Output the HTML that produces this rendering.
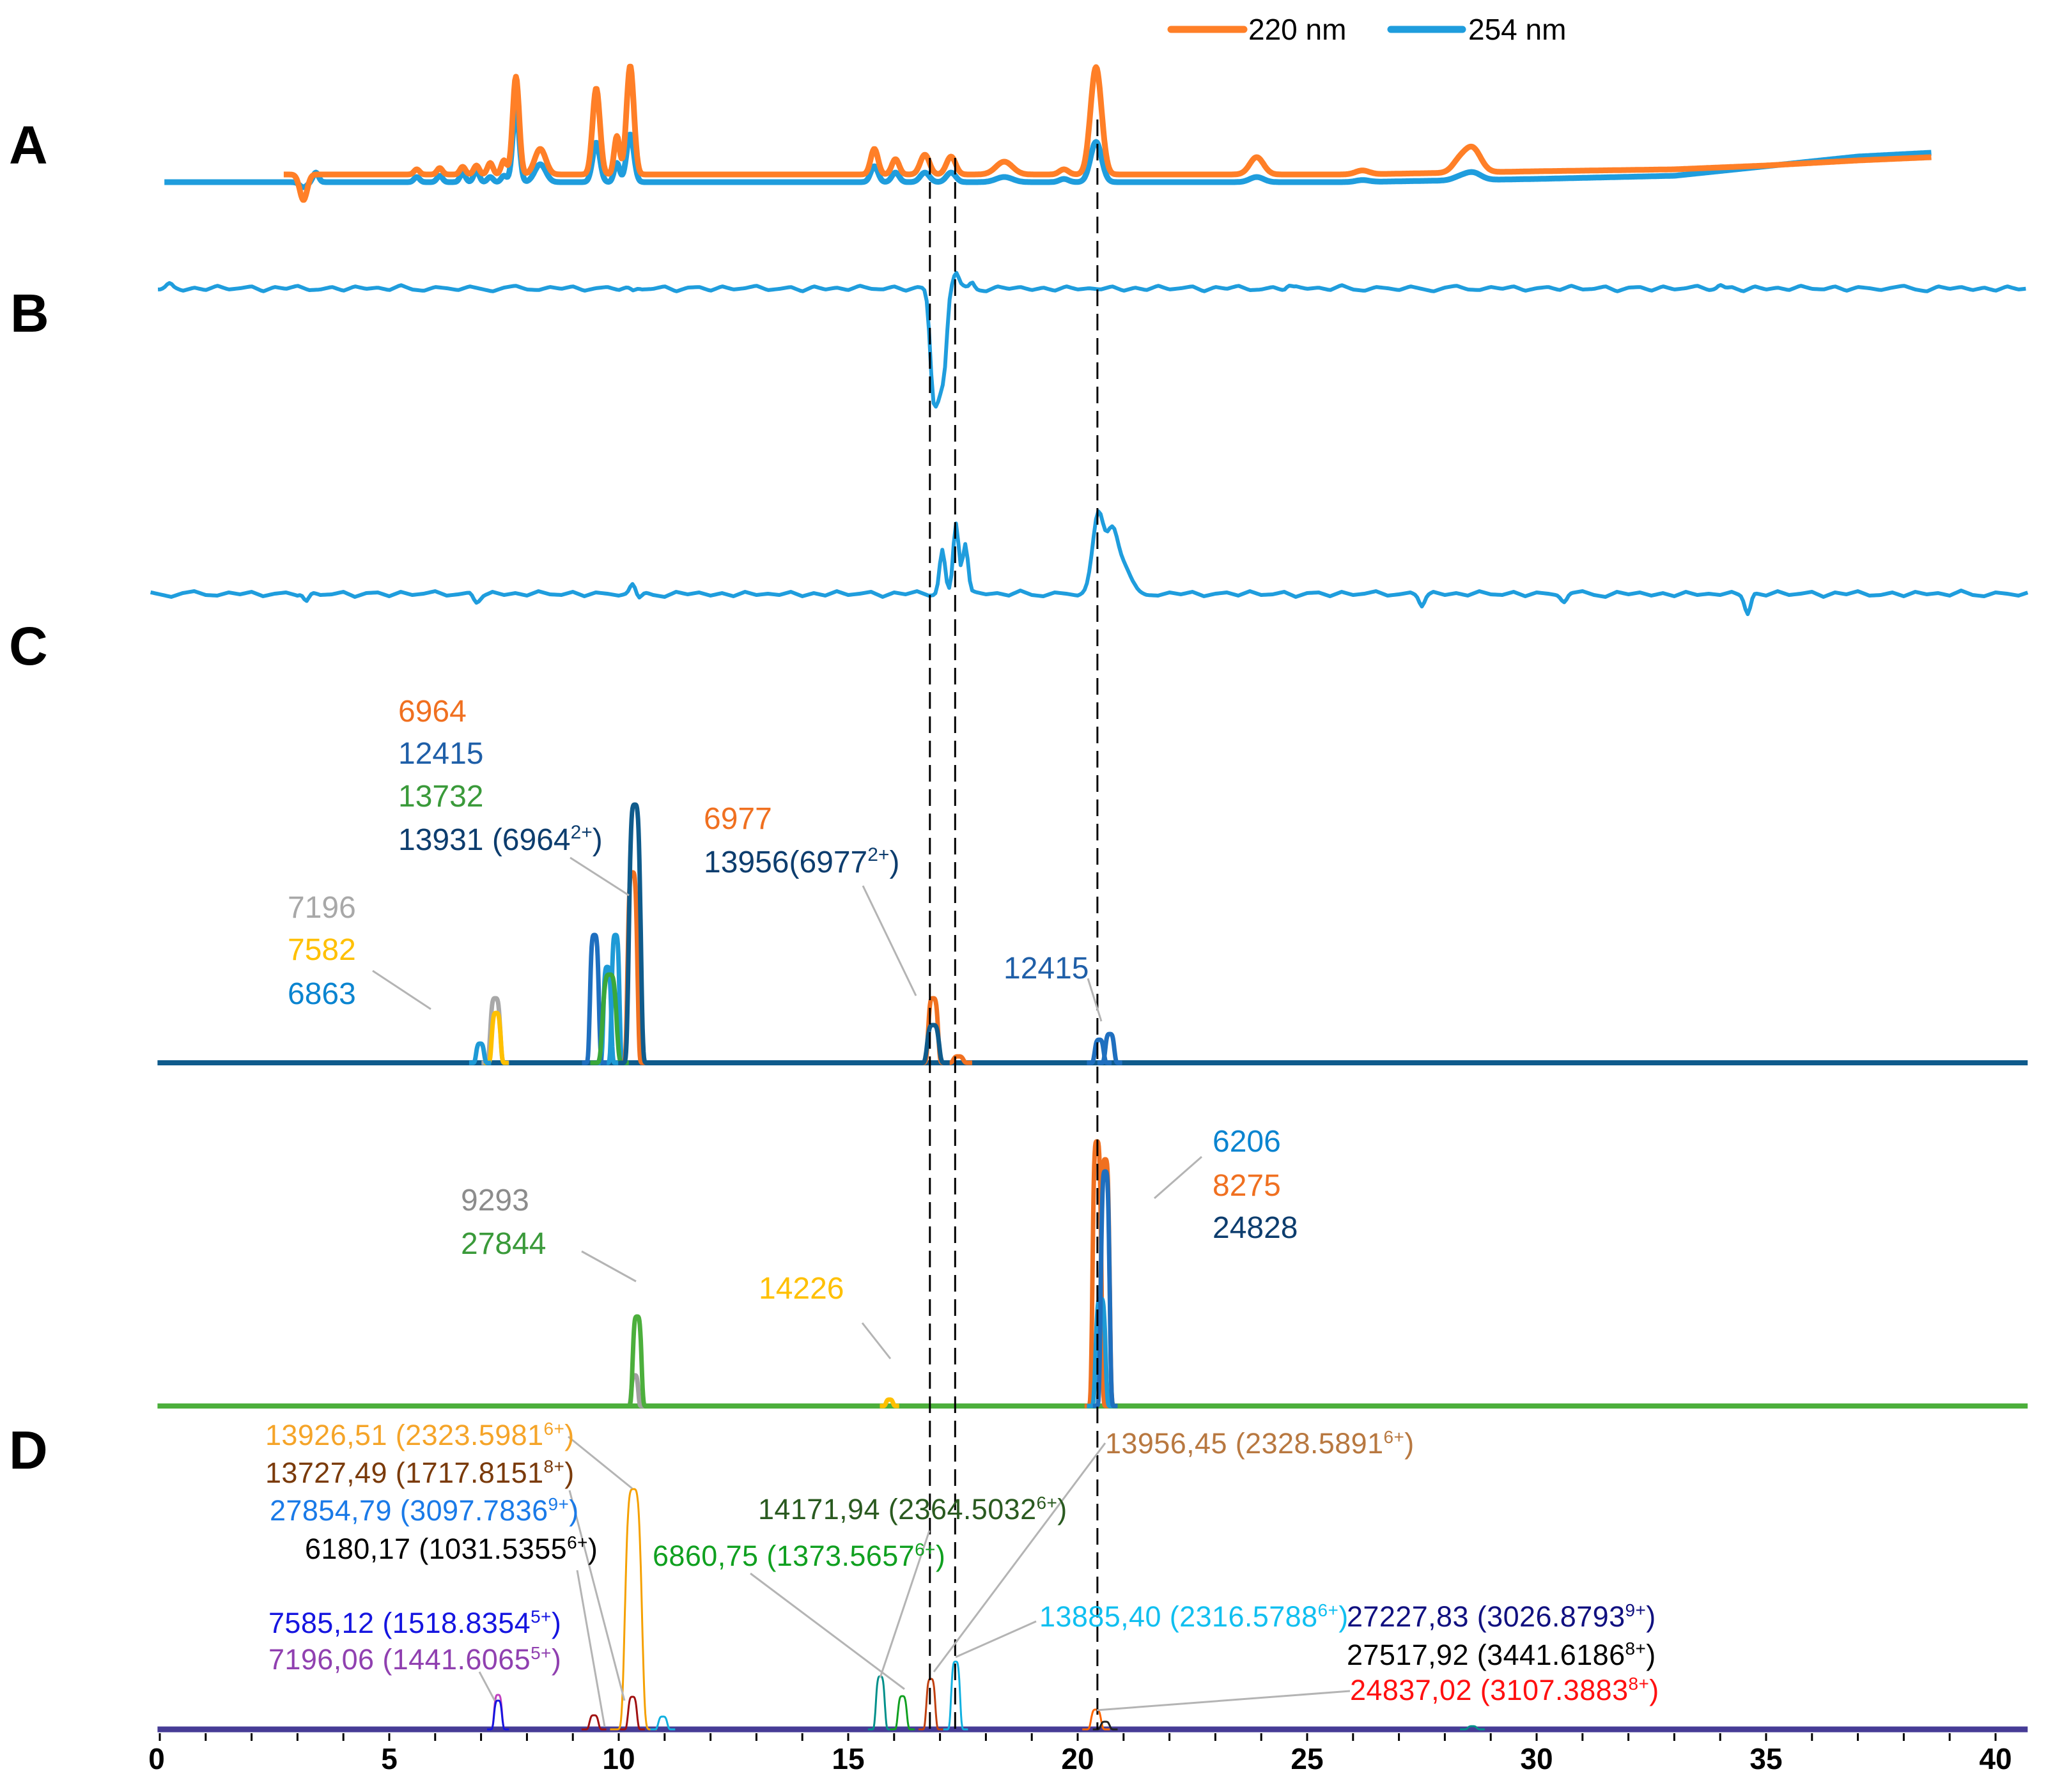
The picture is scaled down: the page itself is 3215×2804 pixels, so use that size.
<!DOCTYPE html>
<html><head><meta charset="utf-8"><title>Chromatograms A–D</title>
<style>
html,body{margin:0;padding:0;background:#fff;}
svg{display:block;font-family:"Liberation Sans",Arial,sans-serif;}
.lc text{font-size:48px;}
.ld text{font-size:45px;letter-spacing:0.4px;}
</style></head>
<body>
<svg id="chart" width="3215" height="2804" viewBox="0 0 3215 2804" xmlns="http://www.w3.org/2000/svg">
<rect x="0" y="0" width="3215" height="2804" fill="#fff"/>
<g id="traces"></g>
<g id="dashes"></g>
<g id="axis"></g>

<g>
  <g>
    <line x1="1832" y1="46" x2="1946" y2="46" stroke="#ff7f27" stroke-width="11" stroke-linecap="round"/>
    <text x="1953" y="62" font-size="46" fill="#000">220 nm</text>
  </g>
  <g>
    <line x1="2176" y1="46" x2="2288" y2="46" stroke="#1f9ddd" stroke-width="11" stroke-linecap="round"/>
    <text x="2297" y="62" font-size="46" fill="#000">254 nm</text>
  </g>
</g>

<g font-weight="bold" font-size="84" fill="#000">
  <text x="14" y="256">A</text>
  <text x="16" y="519">B</text>
  <text x="14" y="1040">C</text>
  <text x="14" y="2298">D</text>
</g>

<g stroke="#b4b4b4" stroke-width="3" fill="none">
  <line x1="583" y1="1519" x2="674" y2="1579"/>
  <line x1="892" y1="1342" x2="984" y2="1401"/>
  <line x1="1350" y1="1386" x2="1433" y2="1558"/>
  <line x1="1702" y1="1531" x2="1723" y2="1598"/>
  <line x1="1880" y1="1810" x2="1806" y2="1875"/>
  <line x1="910" y1="1958" x2="995" y2="2005"/>
  <line x1="1349" y1="2070" x2="1393" y2="2126"/>
  <line x1="889" y1="2248" x2="989" y2="2329"/>
  <line x1="891" y1="2332" x2="977" y2="2661"/>
  <line x1="903" y1="2457" x2="946" y2="2702"/>
  <line x1="750" y1="2616" x2="774" y2="2661"/>
  <line x1="1174" y1="2462" x2="1415" y2="2643"/>
  <line x1="1454" y1="2395" x2="1377" y2="2625"/>
  <line x1="1729" y1="2258" x2="1461" y2="2616"/>
  <line x1="1621" y1="2537" x2="1495" y2="2593"/>
  <line x1="2112" y1="2646" x2="1716" y2="2676"/>
</g>

<g class="lc">
  <text x="623" y="1129" fill="#f07020">6964</text>
  <text x="623" y="1195" fill="#1f5fa8">12415</text>
  <text x="623" y="1262" fill="#3a9a3a">13732</text>
  <text x="623" y="1330" fill="#0d3d6e">13931 (6964<tspan dy="-18" font-size="30">2+</tspan><tspan dy="18">)</tspan></text>
  <text x="1101" y="1297" fill="#f07020">6977</text>
  <text x="1101" y="1365" fill="#0d3d6e">13956(6977<tspan dy="-18" font-size="30">2+</tspan><tspan dy="18">)</tspan></text>
  <text x="450" y="1436" fill="#a8a8a8">7196</text>
  <text x="450" y="1502" fill="#ffc000">7582</text>
  <text x="450" y="1571" fill="#0a84d0">6863</text>
  <text x="1570" y="1531" fill="#1f5fa8">12415</text>
  <text x="1897" y="1802" fill="#0a84d0">6206</text>
  <text x="1897" y="1871" fill="#f07020">8275</text>
  <text x="1897" y="1937" fill="#0d3d6e">24828</text>
  <text x="721" y="1894" fill="#8c8c8c">9293</text>
  <text x="721" y="1962" fill="#3a9a3a">27844</text>
  <text x="1187" y="2032" fill="#ffc000">14226</text>
</g>

<g class="ld">
  <text x="415" y="2261" fill="#f5a428">13926,51 (2323.5981<tspan dy="-16" font-size="28">6+</tspan><tspan dy="16">)</tspan></text>
  <text x="415" y="2320" fill="#7a3a0a">13727,49 (1717.8151<tspan dy="-16" font-size="28">8+</tspan><tspan dy="16">)</tspan></text>
  <text x="422" y="2379" fill="#1a7ae8">27854,79 (3097.7836<tspan dy="-16" font-size="28">9+</tspan><tspan dy="16">)</tspan></text>
  <text x="477" y="2439" fill="#000">6180,17 (1031.5355<tspan dy="-16" font-size="28">6+</tspan><tspan dy="16">)</tspan></text>
  <text x="420" y="2555" fill="#1515e0">7585,12 (1518.8354<tspan dy="-16" font-size="28">5+</tspan><tspan dy="16">)</tspan></text>
  <text x="420" y="2612" fill="#9040b0">7196,06 (1441.6065<tspan dy="-16" font-size="28">5+</tspan><tspan dy="16">)</tspan></text>
  <text x="1186" y="2377" fill="#2a5a20">14171,94 (2364.5032<tspan dy="-16" font-size="28">6+</tspan><tspan dy="16">)</tspan></text>
  <text x="1021" y="2450" fill="#10a020">6860,75 (1373.5657<tspan dy="-16" font-size="28">6+</tspan><tspan dy="16">)</tspan></text>
  <text x="1729" y="2274" fill="#b87840">13956,45 (2328.5891<tspan dy="-16" font-size="28">6+</tspan><tspan dy="16">)</tspan></text>
  <text x="1626" y="2545" fill="#10bff0">13885,40 (2316.5788<tspan dy="-16" font-size="28">6+</tspan><tspan dy="16">)</tspan></text>
  <text x="2107" y="2545" fill="#101080">27227,83 (3026.8793<tspan dy="-16" font-size="28">9+</tspan><tspan dy="16">)</tspan></text>
  <text x="2107" y="2605" fill="#000">27517,92 (3441.6186<tspan dy="-16" font-size="28">8+</tspan><tspan dy="16">)</tspan></text>
  <text x="2112" y="2660" fill="#ff1010">24837,02 (3107.3883<tspan dy="-16" font-size="28">8+</tspan><tspan dy="16">)</tspan></text>
</g>
</svg>

<script>
// ---- data (time in minutes, heights in px above baseline) ----
const axisTicks = [0,5,10,15,20,25,30,35,40];
const markerTimes = [16.78, 17.33, 20.43];
// Panel A
const aTimes = [3.13,3.4,5.6,6.1,6.6,6.9,7.2,7.5,7.76,8.29,9.51,9.96,10.25,15.57,16.03,16.67,17.24,18.4,19.7,20.4,23.9,26.2,28.3,28.6];
const a220   = [-40,0,8,10,12,14,18,22,153,40,135,60,170,40,24,31,28,20,8,168,27,6,15,38];
const a254   = [-8,15,8,10,14,18,8,10,118,28,62,30,75,25,15,15,15,8,5,63,8,3,4,12];
const aWidth = [0.08,0.06,0.06,0.06,0.06,0.06,0.06,0.06,0.07,0.12,0.08,0.06,0.08,0.08,0.08,0.1,0.1,0.18,0.1,0.12,0.15,0.15,0.15,0.18];
const driftT   = [0,26,30,33,35,37,38.6];
const drift220 = [0,0,5,8,14,22,27];
const drift254 = [0,0,5,10,25,40,46];
// Panel B
const bNoise = [2,-3,4,-1,3,-4,2,0,-3,5,-2,1,-4,3,2,-2,4,-3,1,-1,3,-5,2,4,-2,0,3,-3,1,5,-1,-4,2,3,-2,1,-3,4,0,-2,3,-4,2,1,-3,5,-1,-2,4,-3,2,0,-4,3,1,-2,5,-3,2,-1,3,-4,1,2,-3,4,-2,0,3,-1,-4,2,5,-3,1,-2,3,-1,4,-3,2,0];
const b1Times = [0.2,10.3,16.85,16.98,17.1,17.35,17.7,24.6,34.0];
const b1Vals  = [6,-6,-150,-130,-100,22,10,5,6];
const b1Width = [0.06,0.06,0.07,0.07,0.06,0.06,0.05,0.06,0.06];
const b2Times = [3.2,6.9,10.3,10.45,17.05,17.35,17.55,20.45,20.75,21.0,27.5,30.6,34.6];
const b2Vals  = [-14,-12,14,-10,70,110,80,125,95,40,-15,-12,-30];
const b2Width = [0.06,0.06,0.06,0.06,0.06,0.06,0.06,0.12,0.12,0.15,0.06,0.06,0.06];
// Panel C1
const c1Navy   = {t:[10.35,16.85], h:[404,59]};
const c1Orange = {t:[10.3,16.85,17.4], h:[298,101,10]};
const c1Blue   = {t:[9.47,20.47,20.7], h:[200,36,45]};
const c1Light  = {t:[6.98,9.75,9.93], h:[30,150,200]};
const c1Green  = {t:[9.8], h:[138]};
const c1Gray   = {t:[7.31], h:[101]};
const c1Gold   = {t:[7.33], h:[78]};
// Panel C2
const c2Orange = {t:[20.42,20.6], h:[414,386]};
const c2Blue   = {t:[20.6], h:[367]};
const c2Light  = {t:[20.5], h:[168]};
const c2Green  = {t:[10.4], h:[140]};
const c2Gray   = {t:[10.35], h:[48]};
const c2Gold   = {t:[15.9], h:[10]};
// Panel D
const dOrangeY = {t:[10.32], h:[376]};
const dBlue    = {t:[7.37], h:[45]};
const dMagenta = {t:[7.37], h:[54]};
const dDarkRed = {t:[9.46,10.3], h:[22,51]};
const dCyan    = {t:[10.96,17.34], h:[20,106]};
const dTeal    = {t:[15.7,28.6], h:[83,5]};
const dGreen   = {t:[16.18], h:[52]};
const dBrown   = {t:[16.8], h:[79]};
const dRedOr   = {t:[20.4], h:[31]};
const dBlack   = {t:[20.6], h:[12]};

const X0 = 250, PX = 71.8;
const xs = t => X0 + PX * t;
const NS = 'http://www.w3.org/2000/svg';
const tracesG = document.getElementById('traces');
function interp(t, ts, vs){ if(t<=ts[0])return vs[0]; for(let i=1;i<ts.length;i++){ if(t<=ts[i]){const f=(t-ts[i-1])/(ts[i]-ts[i-1]);return vs[i-1]+f*(vs[i]-vs[i-1]);} } return vs[vs.length-1]; }
function gauss(t,c,h,w){ return h*Math.exp(-((t-c)*(t-c))/(2*w*w)); }
// flat-topped peak shape (super-gaussian) for MS extracted traces
function flat(t,c,h,w){ const z=(t-c)/w; return h*Math.exp(-0.5*z*z*z*z); }
function addPath(d, color, width, name){
  const p = document.createElementNS(NS,'path');
  p.setAttribute('d', d);
  p.setAttribute('fill','none');
  p.setAttribute('stroke', color);
  p.setAttribute('stroke-width', width);
  p.setAttribute('stroke-linejoin','round');
  
  
  tracesG.appendChild(p);
}
function line(x1,y1,x2,y2,color,w,name,parent){
  const l=document.createElementNS(NS,'line');
  l.setAttribute('x1',x1);l.setAttribute('y1',y1);l.setAttribute('x2',x2);l.setAttribute('y2',y2);
  l.setAttribute('stroke',color);l.setAttribute('stroke-width',w);
  
  
  (parent||tracesG).appendChild(l);
}
function tracePath(t0,t1,step,fn){ let d=''; for(let t=t0;t<=t1+1e-9;t+=step){ d+=(d?'L':'M')+xs(t).toFixed(1)+','+fn(t).toFixed(1);} return d; }

// Panel A
addPath(tracePath(0.1,38.6,0.02,t=>{let y=285-interp(t,driftT,drift254);aTimes.forEach((c,i)=>y-=gauss(t,c,a254[i],aWidth[i]));return y;}),'#1f9ddd',9,'trace-254nm');
addPath(tracePath(2.7,38.6,0.02,t=>{let y=273-interp(t,driftT,drift220);aTimes.forEach((c,i)=>y-=gauss(t,c,a220[i],aWidth[i]));return y;}),'#ff7f27',9,'trace-220nm');

// Panel B
function noiseAt(t){ const k=Math.max(0,t)/0.25; const i=Math.floor(k); const f=k-i; const a=bNoise[i%bNoise.length], b=bNoise[(i+1)%bNoise.length]; return a+(b-a)*f; }
addPath(tracePath(-0.04,40.7,0.05,t=>{let y=451+noiseAt(t);b1Times.forEach((c,i)=>y-=gauss(t,c,b1Vals[i],b1Width[i]));return y;}),'#1f9ddd',6,'trace-b-upper');
addPath(tracePath(-0.2,40.7,0.05,t=>{let y=929+noiseAt(t+7);b2Times.forEach((c,i)=>y-=gauss(t,c,b2Vals[i],b2Width[i]));return y;}),'#1f9ddd',6,'trace-b-lower');

function peaks(series, base, w, color, sw, name){
  series.t.forEach((c,i)=>{
    addPath(tracePath(c-3*w,c+3*w,0.01,t=>base-flat(t,c,series.h[i],w)),color,sw,name+'-peak-'+i);
  });
}
// C1
line(xs(-0.05),1663,xs(40.7),1663,'#0f5b8c',8,'baseline-c1');
peaks(c1Gray,1663,0.1,'#a8a8a8',7,'c1-7196');
peaks(c1Gold,1663,0.09,'#ffc000',7,'c1-7582');
peaks(c1Light,1663,0.08,'#1e9ad6',7,'c1-6863');
peaks(c1Blue,1663,0.09,'#1f6fbf',7,'c1-12415');
peaks(c1Green,1663,0.14,'#3aa83a',7,'c1-13732');
peaks(c1Orange,1663,0.1,'#f07020',7,'c1-6964');
peaks(c1Navy,1663,0.12,'#0f5b8c',7,'c1-13931');
// C2
line(xs(-0.05),2200,xs(40.7),2200,'#4caf3c',8,'baseline-c2');
peaks(c2Gray,2200,0.07,'#a0a0a0',7,'c2-9293');
peaks(c2Green,2200,0.09,'#4caf3c',7,'c2-27844');
peaks(c2Gold,2200,0.07,'#ffc000',7,'c2-14226');
peaks(c2Orange,2200,0.09,'#f07020',7,'c2-8275');
peaks(c2Light,2200,0.1,'#1e9ad6',7,'c2-6206');
peaks(c2Blue,2200,0.09,'#1f6fbf',7,'c2-24828');
// D
line(xs(-0.05),2706,xs(40.7),2706,'#463c96',9,'baseline-d');
peaks(dMagenta,2706,0.08,'#c040c0',3,'d-7196');
peaks(dBlue,2706,0.08,'#1515e0',3,'d-7585');
peaks(dDarkRed,2706,0.09,'#a01010',3,'d-13727');
peaks(dOrangeY,2706,0.17,'#f5a000',3,'d-13926');
peaks(dCyan,2706,0.09,'#10b0e0',3,'d-13885');
peaks(dTeal,2706,0.09,'#00908a',3,'d-14171');
peaks(dGreen,2706,0.09,'#10a020',3,'d-6860');
peaks(dBrown,2706,0.09,'#c04010',3,'d-13956');
peaks(dRedOr,2706,0.1,'#ff6600',3,'d-24837');
peaks(dBlack,2706,0.09,'#222',3,'d-27517');

// dashed markers
const dashG=document.getElementById('dashes');
markerTimes.forEach((t,i)=>{
  const l=document.createElementNS(NS,'line');
  l.setAttribute('x1',xs(t));l.setAttribute('x2',xs(t));
  l.setAttribute('y1',i===2?187:247);l.setAttribute('y2',2706);
  l.setAttribute('stroke','#000');l.setAttribute('stroke-width',3);
  l.setAttribute('stroke-dasharray','26 12');
  
  
  dashG.appendChild(l);
});

// x axis
const axisG=document.getElementById('axis');
for(let m=0;m<=40;m++){
  line(xs(m),2712,xs(m),2724,'#000',3,'tick-'+m,axisG);
}
axisTicks.forEach(v=>{
  const tx=document.createElementNS(NS,'text');
  tx.setAttribute('x',xs(v)-(v===0?5:0));tx.setAttribute('y',2768);
  tx.setAttribute('text-anchor','middle');tx.setAttribute('font-size','46');tx.setAttribute('font-weight','bold');
  tx.textContent=String(v);
  
  
  axisG.appendChild(tx);
});
</script>
</body></html>
